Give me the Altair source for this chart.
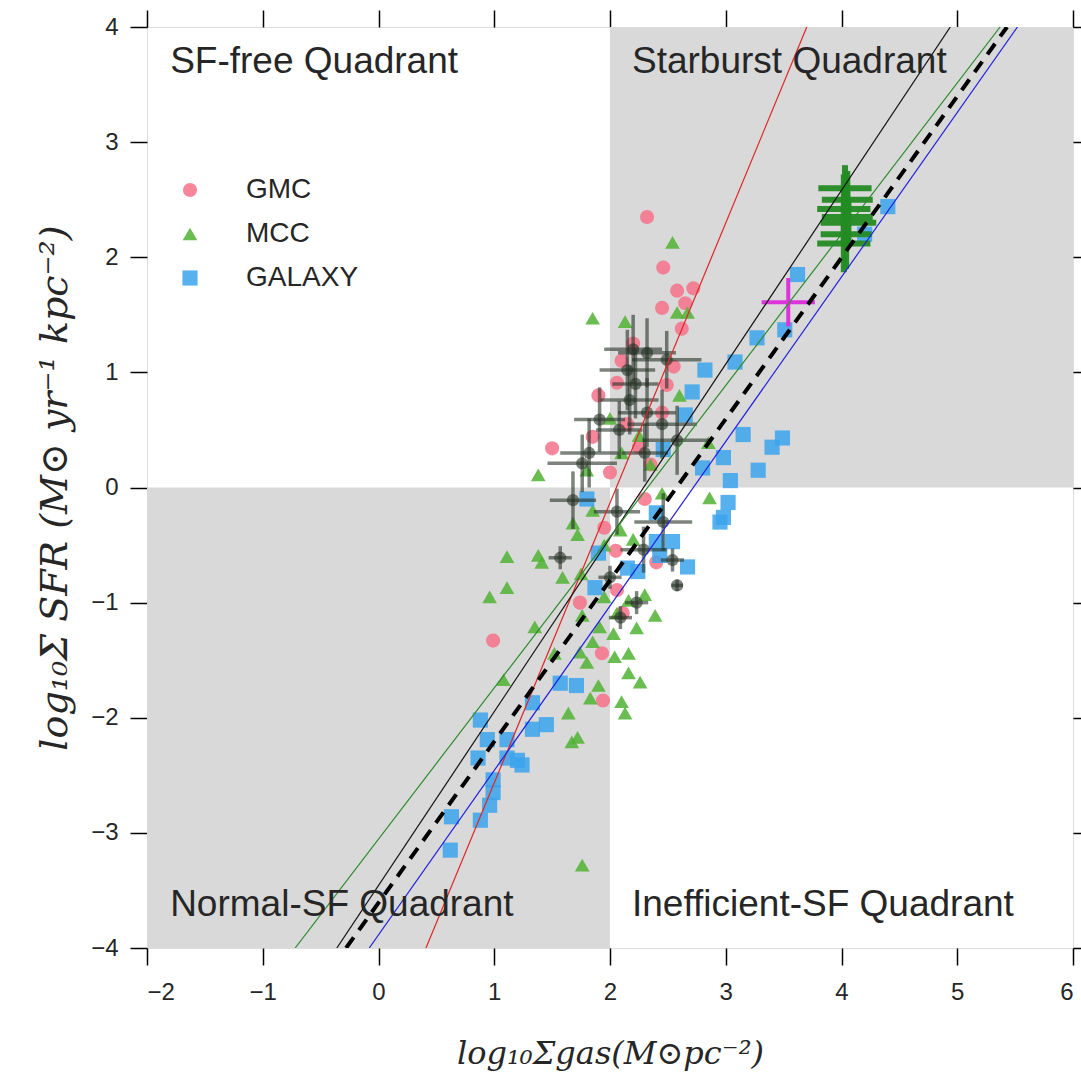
import altair as alt
import pandas as pd

# ---------------- data ----------------
gmc_x = [2.32, 2.46, 2.58, 2.72, 2.45, 2.62, 2.65, 1.50, 2.06, 2.49, 2.45, 1.85, 2.00, 0.99,
         1.94, 2.06, 1.74, 1.93, 2.11, 2.20, 2.15, 2.25, 1.95, 2.30, 2.05, 2.40, 2.10, 1.90,
         2.55, 2.35]
gmc_y = [2.35, 1.91, 1.71, 1.73, 1.56, 1.38, 1.60, 0.34, 0.91, 0.89, 0.65, 0.44, 0.13, -1.33,
         -1.85, -0.89, -1.00, -1.44, -1.09, 1.25, 0.55, 0.35, -0.35, -0.10, -0.55, -0.65, 1.10,
         0.80, 1.05, 0.20]

mcc_x = [2.54, 1.85, 2.13, 2.58, 2.67, 1.38, 1.11, 1.38, 1.41, 1.11, 0.96, 1.35, 1.08, 1.68,
         1.72, 1.59, 1.64, 1.67, 1.76, 1.90, 1.83, 2.10, 2.13, 2.39, 2.30, 2.16, 2.06, 2.23,
         2.03, 1.91, 2.16, 2.04, 2.26, 2.16, 1.85, 1.74, 1.80, 1.76, 1.52, 2.09, 2.86, 2.85,
         1.80, 1.95, 2.20, 2.35, 2.00, 1.75, 2.45, 1.95, 2.60, 2.25, 1.72, 1.85, 2.10]
mcc_y = [2.13, 1.47, 1.44, 1.52, 1.52, 0.11, -0.60, -0.59, -0.65, -0.87, -0.95, -1.21, -1.67, -0.31,
         -0.41, -0.78, -1.96, -2.21, -3.28, -1.72, -1.83, -1.86, -1.96, -1.11, -0.93, -0.98, -1.09, -1.22,
         -1.27, -1.21, -1.44, -1.47, -1.69, -1.61, -1.34, -1.43, -1.52, -1.11, -1.44, -0.37, -0.09, 0.39,
         0.15, -0.50, -0.45, 0.20, 0.60, -0.75, -0.05, -0.95, 0.80, 0.45, -2.17, -0.20, 0.30]

gal_x = [0.62, 0.63, 0.88, 0.96, 0.99, 0.99, 1.20, 1.24, 1.11, 0.86, 0.94, 0.88, 1.11, 1.33,
         1.33, 1.45, 1.57, 1.71, 1.80, 1.87, 1.90, 2.15, 2.24, 2.40, 2.54, 2.43, 2.67, 2.40,
         2.95, 2.98, 3.02, 3.04, 3.28, 2.80, 2.98, 3.15, 3.40, 3.49, 2.65, 2.71, 2.82, 3.08,
         3.27, 3.51, 3.62, 4.40, 4.20, 2.46]
gal_y = [-3.15, -2.86, -2.89, -2.76, -2.65, -2.54, -2.37, -2.41, -2.35, -2.35, -2.19, -2.02, -2.19, -2.10,
         -1.87, -2.06, -1.70, -1.72, -0.10, -0.87, -0.57, -0.70, -0.73, -0.47, -0.47, -0.59, -0.69, -0.22,
         -0.30, -0.26, -0.13, 0.06, 0.15, 0.17, 0.26, 0.46, 0.35, 0.43, 0.63, 0.83, 1.02, 1.09,
         1.30, 1.37, 1.85, 2.44, 2.20, 0.33]

# dark points with error bars
dk_x = [2.15, 2.32, 2.49, 2.22, 2.17, 1.91, 2.32, 2.08, 2.45, 1.76, 1.82, 2.58, 1.68, 2.06,
        2.29, 2.46, 1.57, 2.00, 2.54, 2.58, 2.23, 2.09, 2.20, 2.30]
dk_y = [1.02, 1.17, 1.11, 0.90, 0.76, 0.59, 0.65, 0.50, 0.55, 0.21, 0.30, 0.41, -0.11, -0.21,
        -0.54, -0.30, -0.61, -0.78, -0.63, -0.85, -1.00, -1.13, 1.20, 0.30]
dk_xerr = [0.24, 0.25, 0.30, 0.20, 0.25, 0.22, 0.25, 0.20, 0.30, 0.30, 0.25, 0.30, 0.20, 0.20,
           0.20, 0.25, 0.10, 0.10, 0.10, 0.05, 0.10, 0.10, 0.25, 0.20]
dk_yerr = [0.35, 0.30, 0.25, 0.30, 0.30, 0.28, 0.30, 0.25, 0.30, 0.25, 0.30, 0.30, 0.25, 0.20,
           0.20, 0.25, 0.10, 0.10, 0.10, 0.05, 0.10, 0.10, 0.30, 0.25]

# green high-density points with error bars
gr_x = [4.03, 4.05, 4.02, 4.06, 4.04, 4.02, 4.05]
gr_y = [2.60, 2.50, 2.42, 2.30, 2.20, 2.12, 2.35]
gr_xerr = [0.23, 0.22, 0.23, 0.24, 0.22, 0.23, 0.22]
gr_yerr = [0.20, 0.25, 0.30, 0.20, 0.30, 0.25, 0.22]

# magenta point
mg_x = [3.54]
mg_y = [1.61]
mg_xerr = [0.23]
mg_yerr = [0.21]

# fitted relations: endpoints read where they leave the frame
line_names = ["red", "black", "green", "blue"]
line_x0 = [0.41, -0.36, -0.72, -0.08]
line_y0 = [-4.0, -4.0, -4.0, -4.0]
line_x1 = [3.70, 4.94, 5.37, 5.52]
line_y1 = [4.0, 4.0, 4.0, 4.0]
dash_x = [-0.28, 5.43]
dash_y = [-4.0, 4.0]

# quadrants
quad_x0 = [2, -2]
quad_x1 = [6, 2]
quad_y0 = [0, -4]
quad_y1 = [4, 0]
quad_label = ["SF-free Quadrant", "Starburst Quadrant", "Normal-SF Quadrant", "Inefficient-SF Quadrant"]
quad_lx = [-1.80, 2.19, -1.80, 2.19]
quad_ly = [3.70, 3.70, -3.63, -3.63]

types = ["GMC", "MCC", "GALAXY"]
type_colors = ["#f77189", "#50b131", "#3ba3ec"]
type_shapes = ["circle", "triangle-up", "square"]
line_colors = ["#e02525", "#111111", "#2f8a2f", "#2020dd"]

# ---------------- chart ----------------
FONT = "Liberation Sans"
SERIF = "DejaVu Serif"
xs = alt.Scale(domain=[-2, 6], nice=False, zero=False)
ys = alt.Scale(domain=[-4, 4], nice=False, zero=False)

axis_common = dict(domain=False, grid=False, ticks=True, tickSize=17, tickWidth=1.5,
                   tickColor="#000000", labelFont=FONT, labelFontSize=24, labelColor="#262626",
                   titleFont=SERIF, titleFontStyle="italic", titleFontWeight="normal",
                   titleColor="#262626")

x_bottom = alt.Axis(orient="bottom", values=list(range(-2, 7)), labelPadding=15,
                    title="log₁₀Σgas(M⊙pc⁻²)", titleFontSize=32, titlePadding=34, **axis_common)
y_left = alt.Axis(orient="left", values=list(range(-4, 5)), labelPadding=12,
                  title="log₁₀Σ SFR (M⊙ yr⁻¹ kpc⁻²)", titleFontSize=38, titlePadding=16, **axis_common)
x_top = alt.Axis(orient="top", values=list(range(-2, 7)), labels=False, title=None,
                 domain=False, grid=False, tickSize=17, tickWidth=1.5, tickColor="#000000")
y_right = alt.Axis(orient="right", values=list(range(-4, 5)), labels=False, title=None,
                   domain=False, grid=False, tickSize=17, tickWidth=1.5, tickColor="#000000")

quad_df = pd.DataFrame({"x": quad_x0, "x2": quad_x1, "y": quad_y0, "y2": quad_y1})
rects = alt.Chart(quad_df).mark_rect(color="#d9d9d9").encode(
    x=alt.X("x:Q", scale=xs, axis=x_bottom), x2="x2:Q",
    y=alt.Y("y:Q", scale=ys, axis=y_left), y2="y2:Q")
frame_axes = alt.Chart(quad_df).mark_rect(opacity=0).encode(
    x=alt.X("x:Q", scale=xs, axis=x_top), x2="x2:Q",
    y=alt.Y("y:Q", scale=ys, axis=y_right), y2="y2:Q")

pts = pd.DataFrame({
    "x": gmc_x + mcc_x + gal_x,
    "y": gmc_y + mcc_y + gal_y,
    "type": ["GMC"] * len(gmc_x) + ["MCC"] * len(mcc_x) + ["GALAXY"] * len(gal_x),
})
pts["order"] = pts["type"].map({t: i for i, t in enumerate(types)})
leg = alt.Legend(title=None, orient="none", legendX=29, legendY=149, labelFont=FONT,
                 labelFontSize=28, labelColor="#262626", symbolSize=120, labelOffset=42,
                 rowPadding=16, symbolOpacity=0.85, symbolStrokeWidth=0)
scatter = alt.Chart(pts).mark_point(filled=True, opacity=0.85, strokeWidth=0).encode(
    x=alt.X("x:Q", scale=xs, axis=None),
    y=alt.Y("y:Q", scale=ys, axis=None),
    color=alt.Color("type:N", scale=alt.Scale(domain=types, range=type_colors), legend=leg),
    shape=alt.Shape("type:N", scale=alt.Scale(domain=types, range=type_shapes), legend=leg),
    size=alt.Size("type:N", scale=alt.Scale(domain=types, range=[200, 230, 230]), legend=None),
    order=alt.Order("order:Q"),
)


def err_layers(xv, yv, xe, ye, color, width, opacity, dot_size=None):
    df = pd.DataFrame({"x": xv, "y": yv, "xe": xe, "ye": ye})
    base = alt.Chart(df).transform_calculate(
        xlo="datum.x - datum.xe", xhi="datum.x + datum.xe",
        ylo="datum.y - datum.ye", yhi="datum.y + datum.ye")
    h = base.mark_rule(color=color, strokeWidth=width, opacity=opacity).encode(
        x=alt.X("xlo:Q", scale=xs, axis=None), x2="xhi:Q",
        y=alt.Y("y:Q", scale=ys, axis=None))
    v = base.mark_rule(color=color, strokeWidth=width, opacity=opacity).encode(
        x=alt.X("x:Q", scale=xs, axis=None),
        y=alt.Y("ylo:Q", scale=ys, axis=None), y2="yhi:Q")
    out = [h, v]
    if dot_size:
        d = base.mark_circle(color=color, size=dot_size, opacity=opacity).encode(
            x=alt.X("x:Q", scale=xs, axis=None), y=alt.Y("y:Q", scale=ys, axis=None))
        out.append(d)
    return out


dark = err_layers(dk_x, dk_y, dk_xerr, dk_yerr, "#263226", 3.5, 0.6, dot_size=150)
green = err_layers(gr_x, gr_y, gr_xerr, gr_yerr, "#238b23", 6, 0.95)
mag = err_layers(mg_x, mg_y, mg_xerr, mg_yerr, "#dd33dd", 4, 1.0)

fit_layers = []
for i, nm in enumerate(line_names):
    df = pd.DataFrame({"x": [line_x0[i]], "y": [line_y0[i]], "x2": [line_x1[i]], "y2": [line_y1[i]]})
    fit_layers.append(alt.Chart(df).mark_rule(strokeWidth=1.2, clip=True, color=line_colors[i]).encode(
        x=alt.X("x:Q", scale=xs, axis=None), x2="x2:Q",
        y=alt.Y("y:Q", scale=ys, axis=None), y2="y2:Q"))
dash_df = pd.DataFrame({"x": [dash_x[0]], "y": [dash_y[0]], "x2": [dash_x[1]], "y2": [dash_y[1]]})
dashed = alt.Chart(dash_df).mark_rule(strokeWidth=4, strokeDash=[13, 9], color="#000000", clip=True).encode(
    x=alt.X("x:Q", scale=xs, axis=None), x2="x2:Q",
    y=alt.Y("y:Q", scale=ys, axis=None), y2="y2:Q")

lab_df = pd.DataFrame({"x": quad_lx, "y": quad_ly, "t": quad_label})
labels = alt.Chart(lab_df).mark_text(align="left", baseline="middle", font=FONT, fontSize=37,
                                     color="#262626").encode(
    x=alt.X("x:Q", scale=xs, axis=None), y=alt.Y("y:Q", scale=ys, axis=None), text="t:N")

chart = alt.layer(rects, frame_axes, scatter, *dark, *green, *mag, *fit_layers, dashed, labels).resolve_axis(
    x="independent", y="independent"
).properties(
    width=926, height=921, autosize="none",
    padding={"left": 147, "top": 27, "right": 8, "bottom": 129},
).configure_view(stroke="#000000", strokeWidth=2).configure(background="white")

chart.save("out.html", embed_options={"renderer": "svg", "actions": False})
